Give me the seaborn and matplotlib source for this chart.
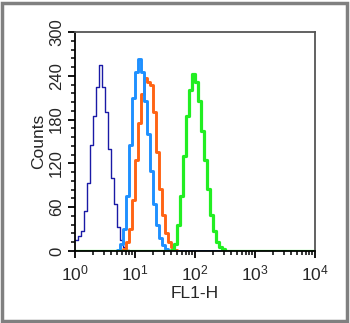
import numpy as np
import pandas as pd
import matplotlib
matplotlib.use("Agg")
import matplotlib.pyplot as plt
from matplotlib.patches import Rectangle
from matplotlib.ticker import MultipleLocator, LogLocator, NullFormatter
import seaborn as sns

# ---- data (counts per log channel, 20 channels per decade, 10^0..10^4) ----
n_channels = 80
navy_start = 0
navy_counts = [15, 20, 28, 55, 93, 145, 185, 225, 255, 225, 190, 140, 100, 65, 33, 15, 5, 2]
blue_start = 14
blue_counts = [2, 10, 30, 75, 145, 210, 245, 263, 245, 205, 160, 110, 65, 35, 18, 8, 3]
orange_start = 16
orange_counts = [3, 12, 30, 70, 125, 175, 215, 237, 232, 228, 190, 135, 85, 50, 25, 12, 5, 2]
green_start = 32
green_counts = [2, 10, 35, 75, 130, 185, 220, 242, 232, 205, 165, 125, 85, 50, 28, 13, 6, 3]

series = [
    ("navy", navy_start, navy_counts, "#1a1aa6", 1.0),
    ("orange", orange_start, orange_counts, "#ff6414", 2.1),
    ("blue", blue_start, blue_counts, "#1e90ff", 2.1),
    ("green", green_start, green_counts, "#22ee22", 2.3),
]

x_ticks = [1, 10, 100, 1000, 10000]
x_ticklabels = [r"$10^{0}$", r"$10^{1}$", r"$10^{2}$", r"$10^{3}$", r"$10^{4}$"]
y_ticks = [0, 60, 120, 180, 240, 300]

sns.set_style("ticks")
plt.rcParams["font.family"] = ["Liberation Sans", "DejaVu Sans"]
plt.rcParams["mathtext.fontset"] = "custom"
plt.rcParams["mathtext.rm"] = "Liberation Sans"
plt.rcParams["mathtext.it"] = "Liberation Sans"

fig = plt.figure(figsize=(3.5, 3.23), dpi=100)
ax = fig.add_axes([75 / 350, 72 / 323, 240 / 350, 219 / 323])

centers = 10 ** ((np.arange(n_channels) + 0.5) / 20.0)
for name, start, counts, color, lw in series:
    full = np.zeros(n_channels)
    full[start:start + len(counts)] = counts
    df = pd.DataFrame({"fl1": centers, "count": full})
    sns.histplot(data=df, x="fl1", weights="count", binwidth=0.05, binrange=(0, 4),
                 log_scale=True, element="step", fill=False, color=color,
                 linewidth=lw, ax=ax)

ax.set_xlim(1, 10000)
ax.set_ylim(0, 300)
ax.set_xticks(x_ticks)
ax.set_xticklabels(x_ticklabels, fontsize=12.5)
ax.xaxis.set_minor_locator(LogLocator(base=10, subs=np.arange(2, 10)))
ax.xaxis.set_minor_formatter(NullFormatter())
ax.set_yticks(y_ticks)
ax.set_yticklabels([str(v) for v in y_ticks], fontsize=12, rotation=90, va="center")
ax.yaxis.set_minor_locator(MultipleLocator(12))
ax.tick_params(which="major", direction="out", length=5, width=1.3, color="black", pad=3)
ax.tick_params(which="minor", direction="out", length=3, width=1.1, color="black")
ax.tick_params(axis="x", which="major", pad=4)
ax.set_xlabel("FL1-H", fontsize=12.5, labelpad=2)
ax.set_ylabel("Counts", fontsize=12.5, labelpad=2)
for side, sp in ax.spines.items():
    sp.set_visible(True)
    sp.set_linewidth(1.3)
    sp.set_color("black" if side in ("left", "bottom") else "#555555")

fig.patches.append(Rectangle((2 / 350, 2 / 323), 345 / 350, 318 / 323, transform=fig.transFigure,
                             fill=False, edgecolor="#808080", linewidth=2.5))

fig.savefig("out.png", dpi=100)
